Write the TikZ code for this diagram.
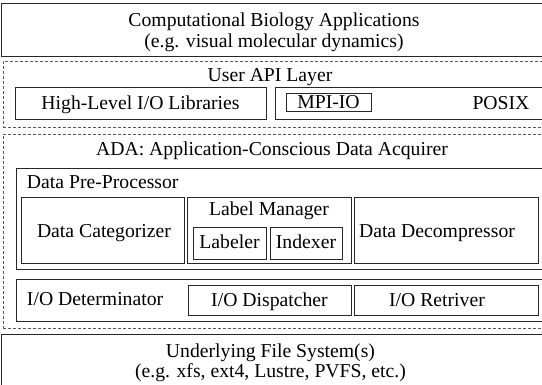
\documentclass[tikz,border=0pt]{standalone}
\usepackage{fontspec}
\setmainfont{Liberation Serif}
\begin{document}
\begin{tikzpicture}[x=1pt,y=-1pt,
  every node/.style={inner sep=0pt, outer sep=0pt},
  solidbox/.style={draw=black!85, line width=0.75pt, rectangle, anchor=north west},
  dashbox/.style={draw=black!65, line width=0.75pt, dash pattern=on 3pt off 2pt, rectangle, anchor=north west},
  txt/.style={font=\fontsize{19.7}{23}\selectfont, text=black, anchor=base},
  ltxt/.style={txt, anchor=base west}]
\useasboundingbox (0,0) rectangle (542,385);
\clip (0,0) rectangle (542,385);
\fill[white] (0,0) rectangle (542,385);
% top application box
\node[solidbox, minimum width=546pt, minimum height=53pt] (app) at (1,3) {};
\node[txt] (appt1) at (274,26.5) {Computational Biology Applications};
\node[txt] (appt2) at (274,48) {(e.g. visual molecular dynamics)};
% user API layer
\node[dashbox, minimum width=542pt, minimum height=66pt] (api) at (3,61) {};
\node[txt] (apit) at (270,82) {User API Layer};
\node[solidbox, minimum width=251pt, minimum height=32pt] (hl) at (15,87) {};
\node[txt] (hlt) at (140.5,110) {High-Level I/O Libraries};
\node[solidbox, minimum width=275pt, minimum height=32pt] (px) at (275,87) {};
\node[solidbox, minimum width=85pt, minimum height=18pt] (mpi) at (286,93) {};
\node[txt] (mpit) at (328.5,109) {MPI-IO};
\node[txt] (pxt) at (501,110) {POSIX};
% ADA
\node[dashbox, minimum width=542pt, minimum height=194pt] (ada) at (3,134) {};
\node[txt] (adat) at (272,156) {ADA: Application-Conscious Data Acquirer};
\node[solidbox, minimum width=535pt, minimum height=101pt] (pre) at (16,168) {};
\node[ltxt] (pret) at (27,189) {Data Pre-Processor};
\node[solidbox, minimum width=163pt, minimum height=66pt] (cat) at (21,197) {};
\node[txt] (catt) at (104,238) {Data Categorizer};
\node[solidbox, minimum width=164pt, minimum height=66pt] (lm) at (187,197) {};
\node[txt] (lmt) at (269,216) {Label Manager};
\node[solidbox, minimum width=73pt, minimum height=32pt] (lab) at (193,227) {};
\node[txt] (labt) at (229.5,249) {Labeler};
\node[solidbox, minimum width=72pt, minimum height=32pt] (idx) at (270,227) {};
\node[txt] (idxt) at (306,249) {Indexer};
\node[solidbox, minimum width=184pt, minimum height=66pt] (dec) at (354,197) {};
\node[txt] (dect) at (437,238) {Data Decompressor};
\node[solidbox, minimum width=535pt, minimum height=42pt] (iod) at (16,279) {};
\node[ltxt] (iodt) at (27,306) {I/O Determinator};
\node[solidbox, minimum width=163pt, minimum height=30pt] (disp) at (188,285) {};
\node[txt] (dispt) at (269.5,306.5) {I/O Dispatcher};
\node[solidbox, minimum width=184pt, minimum height=30pt] (ret) at (354,285) {};
\node[txt] (rett) at (437,306.5) {I/O Retriver};
% file system
\node[solidbox, minimum width=546pt, minimum height=60pt] (fs) at (1,334) {};
\node[txt] (fst1) at (270.5,358) {Underlying File System(s)};
\node[txt] (fst2) at (270.5,378) {(e.g. xfs, ext4, Lustre, PVFS, etc.)};
\end{tikzpicture}
\end{document}
